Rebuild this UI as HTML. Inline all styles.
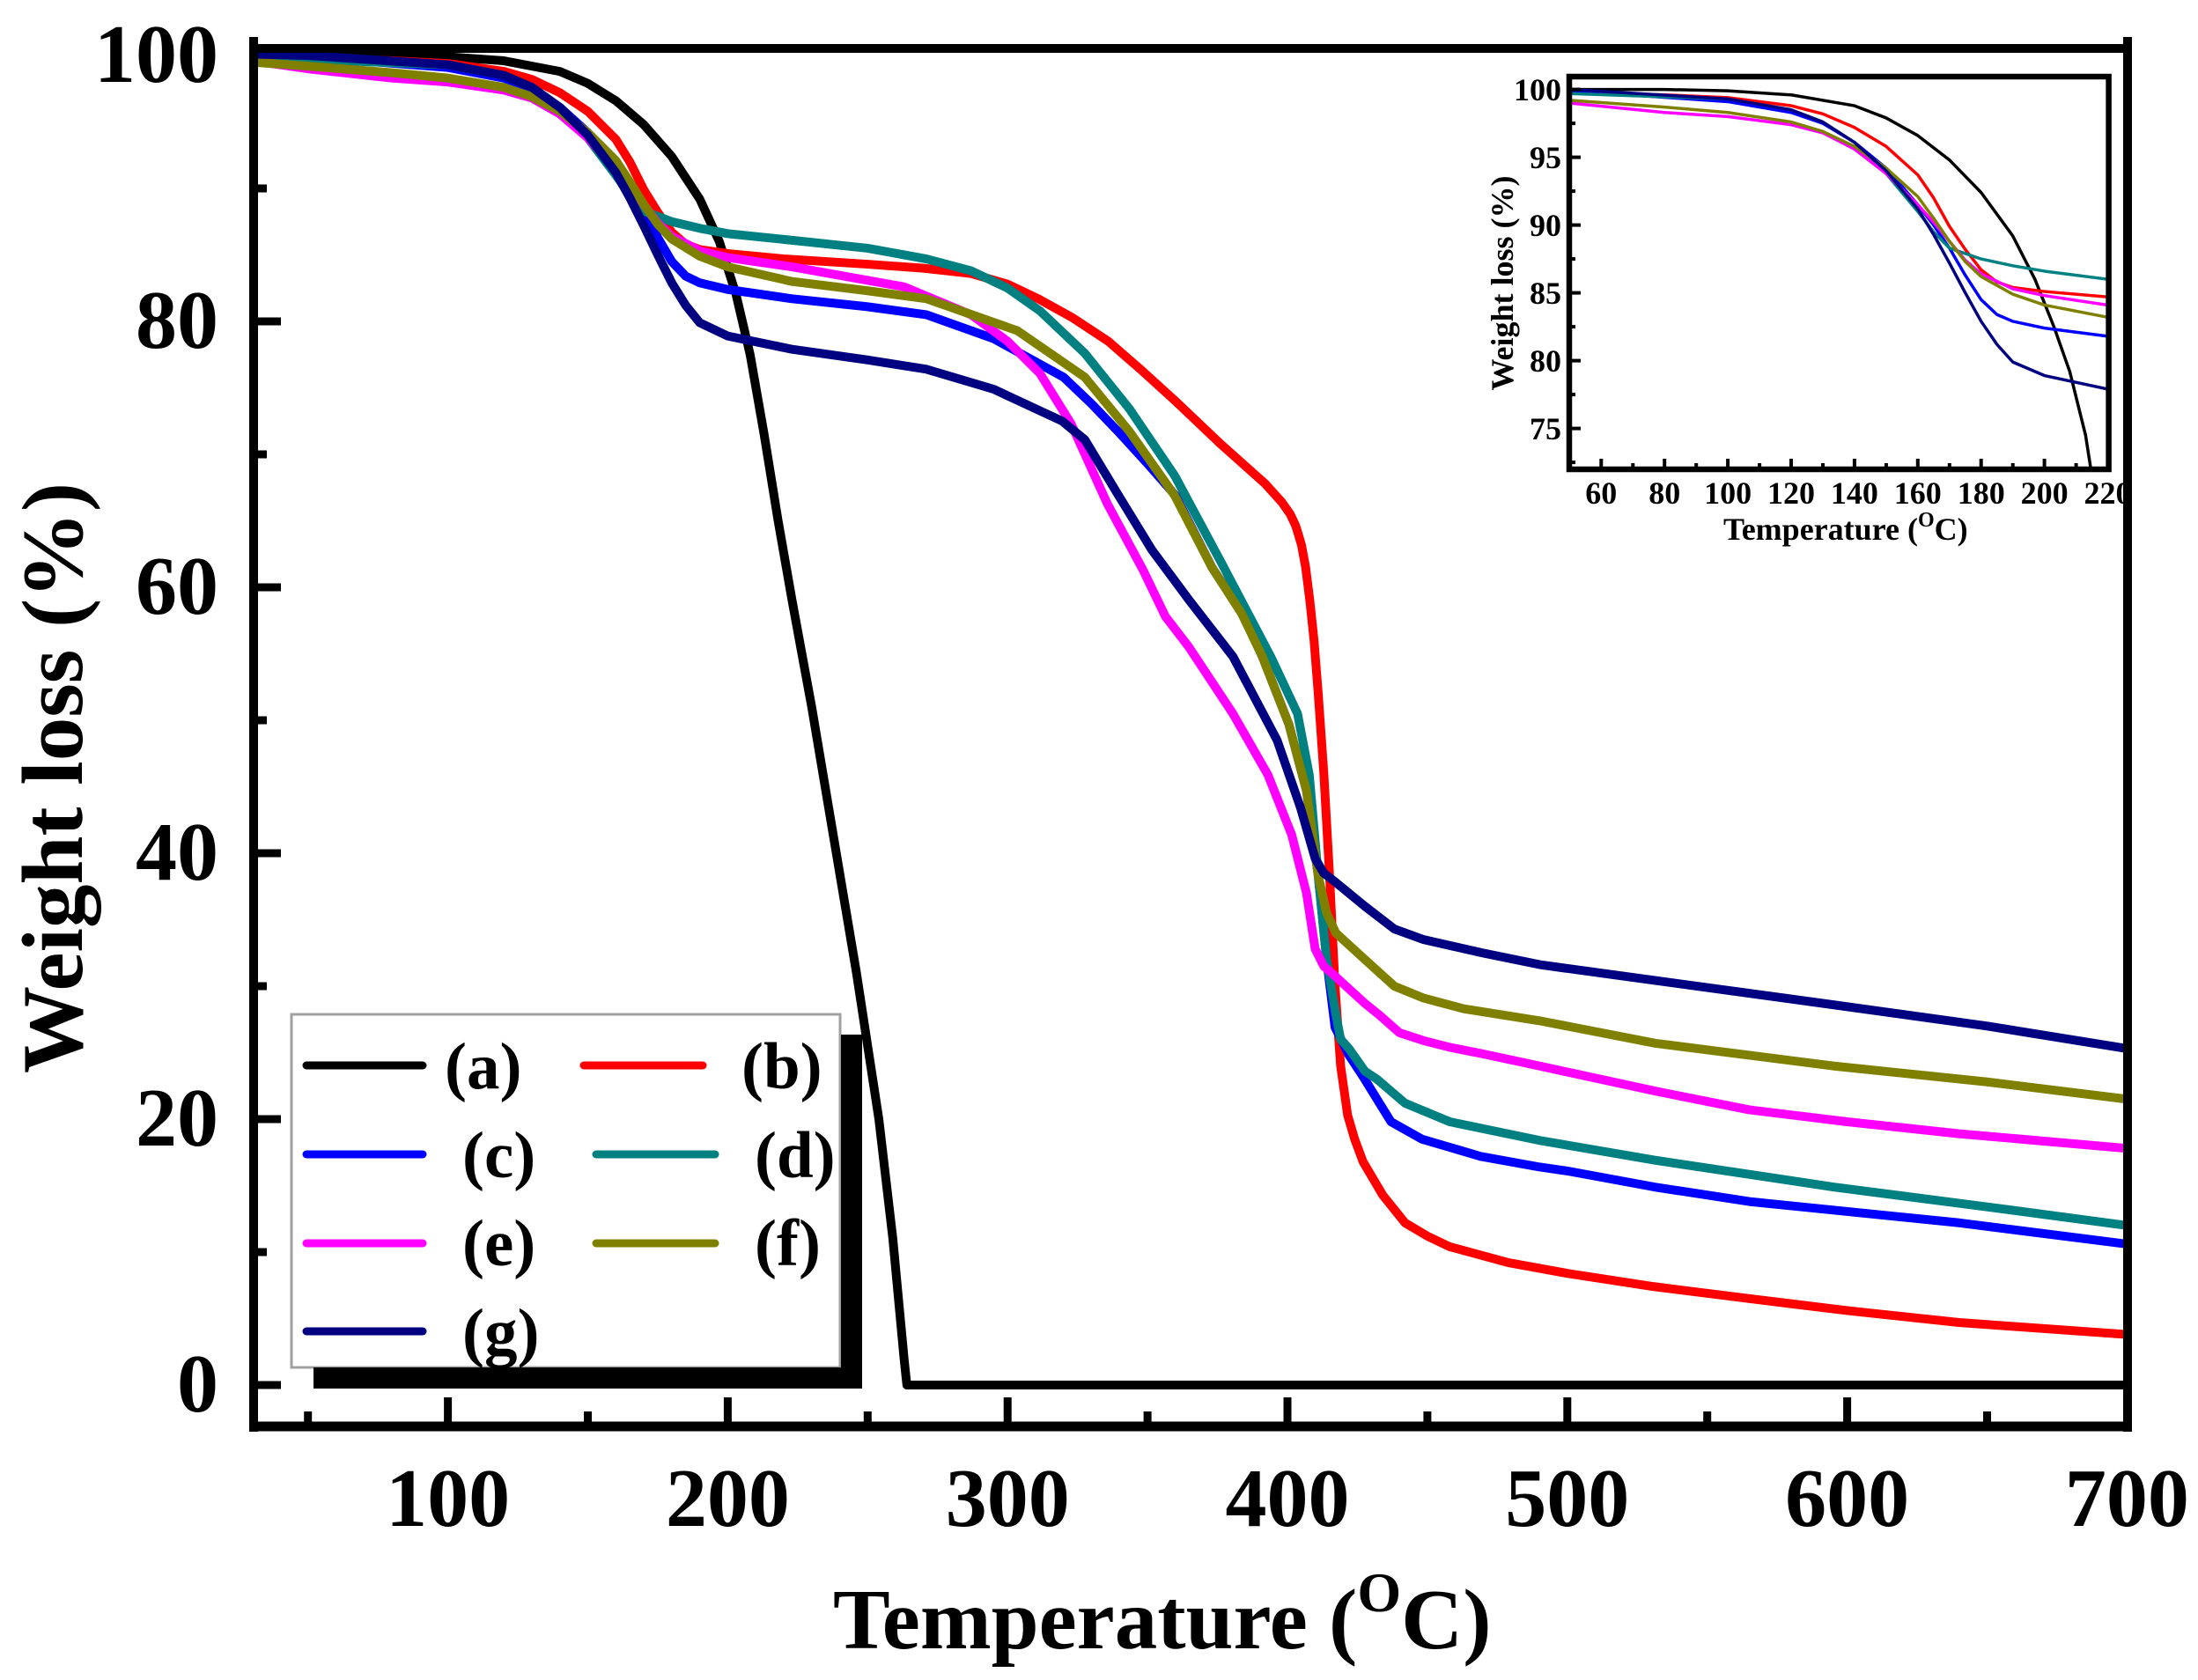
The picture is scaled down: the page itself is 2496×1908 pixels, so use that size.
<!DOCTYPE html>
<html>
<head>
<meta charset="utf-8">
<style>
  html,body{margin:0;padding:0;background:#fff;}
  svg{display:block;}
  text{font-family:"Liberation Serif","Times New Roman",serif;font-weight:bold;fill:#000;}
</style>
</head>
<body>
<svg width="2496" height="1908" viewBox="0 0 2496 1908" xmlns="http://www.w3.org/2000/svg">
  <defs>
    <clipPath id="mainclip"><rect x="288" y="55" width="2128" height="1565"/></clipPath>
    <clipPath id="insetclip"><rect x="1782" y="87" width="612.6" height="446"/></clipPath>
  </defs>
  <rect x="0" y="0" width="2496" height="1908" fill="#fff"/>

  <!-- main curves -->
  <g clip-path="url(#mainclip)">
    <g transform="matrix(3.178 0 0 -15.1 190.8 1573)" fill="none" stroke-width="10" stroke-linejoin="round" stroke-linecap="round">
      <polyline vector-effect="non-scaling-stroke" stroke="#000000" points="30,100 80,100 100,99.9 120,99.6 140,98.8 150,97.9 160,96.6 170,94.8 180,92.4 190,89.2 197,86 203,82 208,77.5 213,71.5 218,65 223,59 230,51 238,41 246,31 254,20 259,11 263,2 264,0 700,0"/>
      <polyline vector-effect="non-scaling-stroke" stroke="#ff0000" points="30,100 50,99.8 80,99.6 100,99.4 120,98.8 130,98.2 140,97.2 150,95.8 160,93.7 165,92 170,89.9 175,88.2 180,86.7 185,85.8 190,85.4 200,85.1 220,84.7 250,84.3 270,84 287,83.6 300,82.8 311,81.7 323,80.3 336,78.5 348,76.3 360,74 376,70.8 392,67.8 398,66.4 401,65.5 403,64.6 405,63.2 406.5,61.5 408,59 409.5,56 411,52 413,46 415,38.5 417,30 419,24 421.5,20.3 424,18.5 427,16.8 434,14.3 442,12.2 450,11.2 458,10.4 479,9.2 500,8.4 531,7.4 565,6.5 600,5.6 640,4.7 700,3.8"/>
      <polyline vector-effect="non-scaling-stroke" stroke="#0000ff" points="30,100 50,99.9 100,99.1 120,98.3 130,97.5 140,96.1 150,94.2 160,91.5 165,90 170,88.3 175,86.3 180,84.5 185,83.4 190,82.9 200,82.4 223,81.7 250,81.1 271,80.5 295,78.7 320,75.8 330,73.8 340,71.6 350,69.3 360,66.9 373,61.5 384,58 391,54.8 400.5,49.7 406.8,44.7 411,38.3 414,32 417,26.9 422,24.8 427,23.2 437,19.8 448,18.5 469,17.2 490,16.4 500,16.1 531,14.9 565,13.8 640,12.2 700,10.6"/>
      <polyline vector-effect="non-scaling-stroke" stroke="#008080" points="30,99.8 50,99.7 100,99.3 120,98.5 130,97.6 140,96.1 150,93.8 160,91 165,89.5 170,88.3 175,87.9 180,87.5 190,87 200,86.6 223,86.1 250,85.5 271,84.7 287,83.8 300,82.5 311.5,80.8 327.6,77.6 343.6,73.4 359.7,68.4 376,62 386,58 394,54.8 403.6,50.5 407.8,45.9 411,38.3 414,32 417.2,28 419,26 422,25.3 427.7,23.6 432,23 442,21.2 458,19.8 490,18.4 531.6,16.9 595,14.9 650,13.4 700,12"/>
      <polyline vector-effect="non-scaling-stroke" stroke="#ff00ff" points="30,99.6 50,99 80,98.3 100,98 120,97.4 130,96.8 140,95.6 150,93.8 160,91.5 165,90.2 170,88.8 175,87.4 180,86.4 190,85.3 200,84.8 223,84.1 263,82.6 287,80.5 300,78.5 311.5,76.1 322.7,72.3 335.6,66.3 348.4,61.3 356.4,57.8 364.8,55.5 380.5,50.5 393,45.9 401.5,41.4 406.8,37 409.9,32.8 413,31.5 417.3,30.7 427.7,28.7 433,27.8 440,26.5 448.7,25.9 458,25.4 470,24.9 490,24 531.6,22.1 565,20.7 600,19.8 640,18.9 700,17.8"/>
      <polyline vector-effect="non-scaling-stroke" stroke="#808000" points="30,99.5 50,99.2 80,98.7 100,98.3 120,97.6 130,96.9 140,95.8 150,94.2 160,92.1 165,90.5 170,88.8 175,87.3 180,86.2 190,84.9 200,84.1 223,83 250,82.3 271,81.7 303.5,79.3 327.6,75.8 343.6,71.7 359.7,66.9 373,61.5 383.7,58 391,54.8 400.5,49.7 406.8,44.7 411,38.3 414,35.5 417.3,34 427.7,32 438.2,30 448.7,29.1 463,28.3 490,27.4 531.6,25.7 595,24 650,22.8 700,21.5"/>
      <polyline vector-effect="non-scaling-stroke" stroke="#000080" points="30,100.1 50,100 100,99.3 120,98.5 130,97.6 140,96.1 150,94 160,91.2 165,89.3 170,87.2 175,85 180,82.9 185,81.2 190,79.9 200,78.9 223,77.9 250,77.1 271,76.4 295,74.9 319.5,72.5 327.6,71.1 338.8,67.2 351.6,62.8 365,59 380.5,54.8 396.3,48.5 404.7,43.4 409.9,39.6 413,38.5 417.3,37.8 427.7,36 438.2,34.3 448.7,33.5 469.7,32.5 490.7,31.6 522,30.7 595,28.6 650,27 700,25.3"/>
    </g>
  </g>

  <!-- main axes frame -->
  <g stroke="#000" fill="none">
    <line x1="283" y1="55" x2="2421" y2="55" stroke-width="10"/>
    <line x1="283" y1="1620" x2="2421" y2="1620" stroke-width="11"/>
    <line x1="288" y1="42" x2="288" y2="1626" stroke-width="10"/>
    <line x1="2416" y1="42" x2="2416" y2="1626" stroke-width="10"/>
  </g>
  <!-- main ticks -->
  <g stroke="#000" stroke-width="9">
    <line x1="288" y1="1573" x2="319" y2="1573"/>
    <line x1="288" y1="1271" x2="319" y2="1271"/>
    <line x1="288" y1="969" x2="319" y2="969"/>
    <line x1="288" y1="667" x2="319" y2="667"/>
    <line x1="288" y1="365" x2="319" y2="365"/>
    <line x1="288" y1="1422" x2="303" y2="1422"/>
    <line x1="288" y1="1120" x2="303" y2="1120"/>
    <line x1="288" y1="818" x2="303" y2="818"/>
    <line x1="288" y1="516" x2="303" y2="516"/>
    <line x1="288" y1="214" x2="303" y2="214"/>

    <line x1="508.6" y1="1620" x2="508.6" y2="1587"/>
    <line x1="826.4" y1="1620" x2="826.4" y2="1587"/>
    <line x1="1144.2" y1="1620" x2="1144.2" y2="1587"/>
    <line x1="1462" y1="1620" x2="1462" y2="1587"/>
    <line x1="1779.8" y1="1620" x2="1779.8" y2="1587"/>
    <line x1="2097.6" y1="1620" x2="2097.6" y2="1587"/>
    <line x1="349.7" y1="1620" x2="349.7" y2="1603"/>
    <line x1="667.5" y1="1620" x2="667.5" y2="1603"/>
    <line x1="985.3" y1="1620" x2="985.3" y2="1603"/>
    <line x1="1303.1" y1="1620" x2="1303.1" y2="1603"/>
    <line x1="1620.9" y1="1620" x2="1620.9" y2="1603"/>
    <line x1="1938.7" y1="1620" x2="1938.7" y2="1603"/>
    <line x1="2256.5" y1="1620" x2="2256.5" y2="1603"/>
  </g>

  <!-- main tick labels -->
  <g font-size="94" text-anchor="end">
    <text x="248" y="93">100</text>
    <text x="248" y="395">80</text>
    <text x="248" y="697">60</text>
    <text x="248" y="999">40</text>
    <text x="248" y="1301">20</text>
    <text x="248" y="1603">0</text>
  </g>
  <g font-size="94" text-anchor="middle">
    <text x="508.6" y="1733">100</text>
    <text x="826.4" y="1733">200</text>
    <text x="1144.2" y="1733">300</text>
    <text x="1462" y="1733">400</text>
    <text x="1779.8" y="1733">500</text>
    <text x="2097.6" y="1733">600</text>
    <text x="2415.4" y="1733">700</text>
  </g>

  <!-- axis titles -->
  <text transform="translate(93,883.5) rotate(-90)" font-size="99" text-anchor="middle">Weight loss (%)</text>
  <text x="946" y="1872" font-size="97">Temperature (<tspan font-size="64" dy="-42">O</tspan><tspan dy="42">C)</tspan></text>

  <!-- legend -->
  <rect x="331" y="1152" width="623" height="401" fill="#fff" stroke="#a0a0a0" stroke-width="3"/>
  <g stroke-width="9" stroke-linecap="round">
    <line x1="348" y1="1210" x2="480" y2="1210" stroke="#000000"/>
    <line x1="663" y1="1210" x2="798" y2="1210" stroke="#ff0000"/>
    <line x1="348" y1="1311" x2="480" y2="1311" stroke="#0000ff"/>
    <line x1="677" y1="1311" x2="812" y2="1311" stroke="#008080"/>
    <line x1="348" y1="1412" x2="480" y2="1412" stroke="#ff00ff"/>
    <line x1="677" y1="1412" x2="812" y2="1412" stroke="#808000"/>
    <line x1="348" y1="1512" x2="480" y2="1512" stroke="#000080"/>
  </g>
  <g font-size="75">
    <text x="505" y="1236">(a)</text>
    <text x="842" y="1236">(b)</text>
    <text x="525" y="1337">(c)</text>
    <text x="857" y="1337">(d)</text>
    <text x="525" y="1437">(e)</text>
    <text x="857" y="1437">(f)</text>
    <text x="525" y="1538">(g)</text>
  </g>
  <rect x="955" y="1175" width="24" height="402" fill="#000"/>
  <rect x="356" y="1553" width="623" height="24" fill="#000"/>

  <!-- inset -->
  <rect x="1782" y="87" width="612.6" height="446" fill="#fff"/>
  <g clip-path="url(#insetclip)">
    <g transform="matrix(3.595 0 0 -15.4 1602.6 1641.6)" fill="none" stroke-width="3.5" stroke-linejoin="round" stroke-linecap="round">
      <polyline vector-effect="non-scaling-stroke" stroke="#000000" points="30,100 80,100 100,99.9 120,99.6 140,98.8 150,97.9 160,96.6 170,94.8 180,92.4 190,89.2 197,86 203,82.5 208,79.2 213,74.5 218,67 223,59"/>
      <polyline vector-effect="non-scaling-stroke" stroke="#ff0000" points="50,99.8 80,99.6 100,99.4 120,98.8 130,98.2 140,97.2 150,95.8 160,93.7 165,92 170,89.9 175,88.2 180,86.7 185,85.8 190,85.4 200,85.1 220,84.7 230,84.6"/>
      <polyline vector-effect="non-scaling-stroke" stroke="#0000ff" points="50,99.9 100,99.1 120,98.3 130,97.5 140,96.1 150,94.2 160,91.5 165,90 170,88.3 175,86.3 180,84.5 185,83.4 190,82.9 200,82.4 220,81.8 230,81.6"/>
      <polyline vector-effect="non-scaling-stroke" stroke="#008080" points="50,99.7 100,99.3 120,98.5 130,97.6 140,96.1 150,93.8 160,91 165,89.5 170,88.3 175,87.9 180,87.5 190,87 200,86.6 220,86 230,85.8"/>
      <polyline vector-effect="non-scaling-stroke" stroke="#ff00ff" points="50,99 80,98.3 100,98 120,97.4 130,96.8 140,95.6 150,93.8 160,91.5 165,90.2 170,88.8 175,87.4 180,86.4 190,85.3 200,84.8 220,84.1 230,83.9"/>
      <polyline vector-effect="non-scaling-stroke" stroke="#808000" points="50,99.2 80,98.7 100,98.3 120,97.6 130,96.9 140,95.8 150,94.2 160,92.1 165,90.5 170,88.8 175,87.3 180,86.2 190,84.9 200,84.1 220,83.2 230,82.9"/>
      <polyline vector-effect="non-scaling-stroke" stroke="#000080" points="50,100 100,99.3 120,98.5 130,97.6 140,96.1 150,94 160,91.2 165,89.3 170,87.2 175,85 180,82.9 185,81.2 190,79.9 200,78.9 220,77.9 230,77.6"/>
    </g>
  </g>
  <rect x="1782" y="87" width="612.6" height="446" fill="none" stroke="#000" stroke-width="6.5"/>
  <g stroke="#000" stroke-width="4">
    <line x1="1782" y1="101.6" x2="1795" y2="101.6"/>
    <line x1="1782" y1="178.6" x2="1795" y2="178.6"/>
    <line x1="1782" y1="255.6" x2="1795" y2="255.6"/>
    <line x1="1782" y1="332.6" x2="1795" y2="332.6"/>
    <line x1="1782" y1="409.6" x2="1795" y2="409.6"/>
    <line x1="1782" y1="486.6" x2="1795" y2="486.6"/>
    <line x1="1782" y1="140.1" x2="1789" y2="140.1"/>
    <line x1="1782" y1="217.1" x2="1789" y2="217.1"/>
    <line x1="1782" y1="294.1" x2="1789" y2="294.1"/>
    <line x1="1782" y1="371.1" x2="1789" y2="371.1"/>
    <line x1="1782" y1="448.1" x2="1789" y2="448.1"/>
    <line x1="1782" y1="525.1" x2="1789" y2="525.1"/>

    <line x1="1818.3" y1="533" x2="1818.3" y2="521"/>
    <line x1="1890.2" y1="533" x2="1890.2" y2="521"/>
    <line x1="1962.1" y1="533" x2="1962.1" y2="521"/>
    <line x1="2034" y1="533" x2="2034" y2="521"/>
    <line x1="2105.9" y1="533" x2="2105.9" y2="521"/>
    <line x1="2177.8" y1="533" x2="2177.8" y2="521"/>
    <line x1="2249.7" y1="533" x2="2249.7" y2="521"/>
    <line x1="2321.6" y1="533" x2="2321.6" y2="521"/>
    <line x1="1854.3" y1="533" x2="1854.3" y2="526"/>
    <line x1="1926.2" y1="533" x2="1926.2" y2="526"/>
    <line x1="1998.1" y1="533" x2="1998.1" y2="526"/>
    <line x1="2070" y1="533" x2="2070" y2="526"/>
    <line x1="2141.9" y1="533" x2="2141.9" y2="526"/>
    <line x1="2213.8" y1="533" x2="2213.8" y2="526"/>
    <line x1="2285.7" y1="533" x2="2285.7" y2="526"/>
    <line x1="2357.6" y1="533" x2="2357.6" y2="526"/>
  </g>
  <g font-size="36" text-anchor="end">
    <text x="1773" y="114">100</text>
    <text x="1773" y="191">95</text>
    <text x="1773" y="268">90</text>
    <text x="1773" y="345">85</text>
    <text x="1773" y="422">80</text>
    <text x="1773" y="499">75</text>
  </g>
  <g font-size="36" text-anchor="middle">
    <text x="1818.3" y="572">60</text>
    <text x="1890.2" y="572">80</text>
    <text x="1962.1" y="572">100</text>
    <text x="2034" y="572">120</text>
    <text x="2105.9" y="572">140</text>
    <text x="2177.8" y="572">160</text>
    <text x="2249.7" y="572">180</text>
    <text x="2321.6" y="572">200</text>
    <text x="2393.5" y="572">220</text>
  </g>
  <text transform="translate(1718,321.5) rotate(-90)" font-size="36" text-anchor="middle">Weight loss (%)</text>
  <text x="1957" y="613" font-size="36">Temperature (<tspan font-size="24" dy="-15">O</tspan><tspan dy="15">C)</tspan></text>

  <!-- redraw right main axis over inset label overflow -->
  <line x1="2416" y1="42" x2="2416" y2="1626" stroke="#000" stroke-width="10"/>
  <rect x="2421" y="80" width="75" height="540" fill="#fff"/>
</svg>
</body>
</html>
